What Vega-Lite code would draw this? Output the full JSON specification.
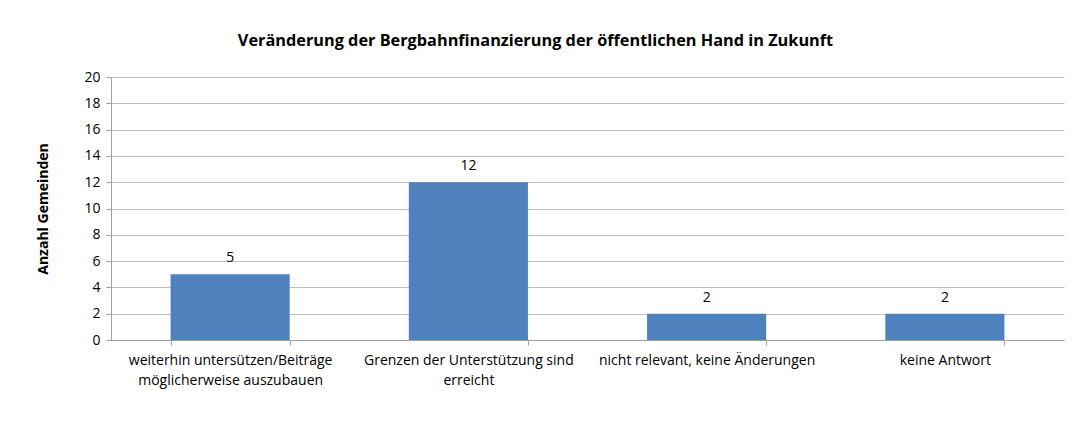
{
  "$schema": "https://vega.github.io/schema/vega-lite/v6.json",
  "width": 953,
  "height": 263,
  "autosize": {"type": "none"},
  "padding": {"left": 111, "top": 77, "right": 22, "bottom": 81},
  "background": "white",
  "title": {
    "text": "Veränderung der Bergbahnfinanzierung der öffentlichen Hand in Zukunft",
    "font": "Open Sans",
    "fontSize": 16.3,
    "fontWeight": "bold",
    "color": "#000000",
    "anchor": "middle",
    "dx": -52,
    "offset": 21
  },
  "data": {
    "values": [
      {"kategorie": "weiterhin untersützen/Beiträge möglicherweise auszubauen", "anzahl": 5},
      {"kategorie": "Grenzen der Unterstützung sind erreicht", "anzahl": 12},
      {"kategorie": "nicht relevant, keine Änderungen", "anzahl": 2},
      {"kategorie": "keine Antwort", "anzahl": 2}
    ]
  },
  "encoding": {
    "x": {
      "field": "kategorie",
      "type": "nominal",
      "sort": null,
      "scale": {"paddingInner": 0.5, "paddingOuter": 0.25},
      "axis": {
        "title": null,
        "labelAngle": 0,
        "tickBand": "extent",
        "labelPadding": 8,
        "labelLimit": 0,
        "labelLineHeight": 20,
        "labelExpr": "datum.label == 'weiterhin untersützen/Beiträge möglicherweise auszubauen' ? ['weiterhin untersützen/Beiträge', 'möglicherweise auszubauen'] : datum.label == 'Grenzen der Unterstützung sind erreicht' ? ['Grenzen der Unterstützung sind', 'erreicht'] : datum.label"
      }
    },
    "y": {
      "field": "anzahl",
      "type": "quantitative",
      "scale": {"domain": [0, 20], "nice": false},
      "axis": {
        "title": "Anzahl Gemeinden",
        "values": [0, 2, 4, 6, 8, 10, 12, 14, 16, 18, 20],
        "titlePadding": 33,
        "labelPadding": 6,
        "grid": true
      }
    }
  },
  "layer": [
    {"mark": {"type": "bar", "color": "#4F81BD"}},
    {
      "mark": {"type": "text", "dy": -16, "font": "Open Sans", "fontSize": 14, "color": "#000000"},
      "encoding": {"text": {"field": "anzahl", "type": "quantitative"}}
    }
  ],
  "config": {
    "view": {"stroke": null},
    "axis": {
      "labelFont": "Open Sans",
      "labelFontSize": 14,
      "labelColor": "#000000",
      "titleFont": "Open Sans",
      "titleFontSize": 14,
      "titleFontWeight": "bold",
      "titleColor": "#000000",
      "domainColor": "#A0A0A0",
      "tickColor": "#A0A0A0",
      "gridColor": "#BEBEBE",
      "tickSize": 5
    }
  }
}
